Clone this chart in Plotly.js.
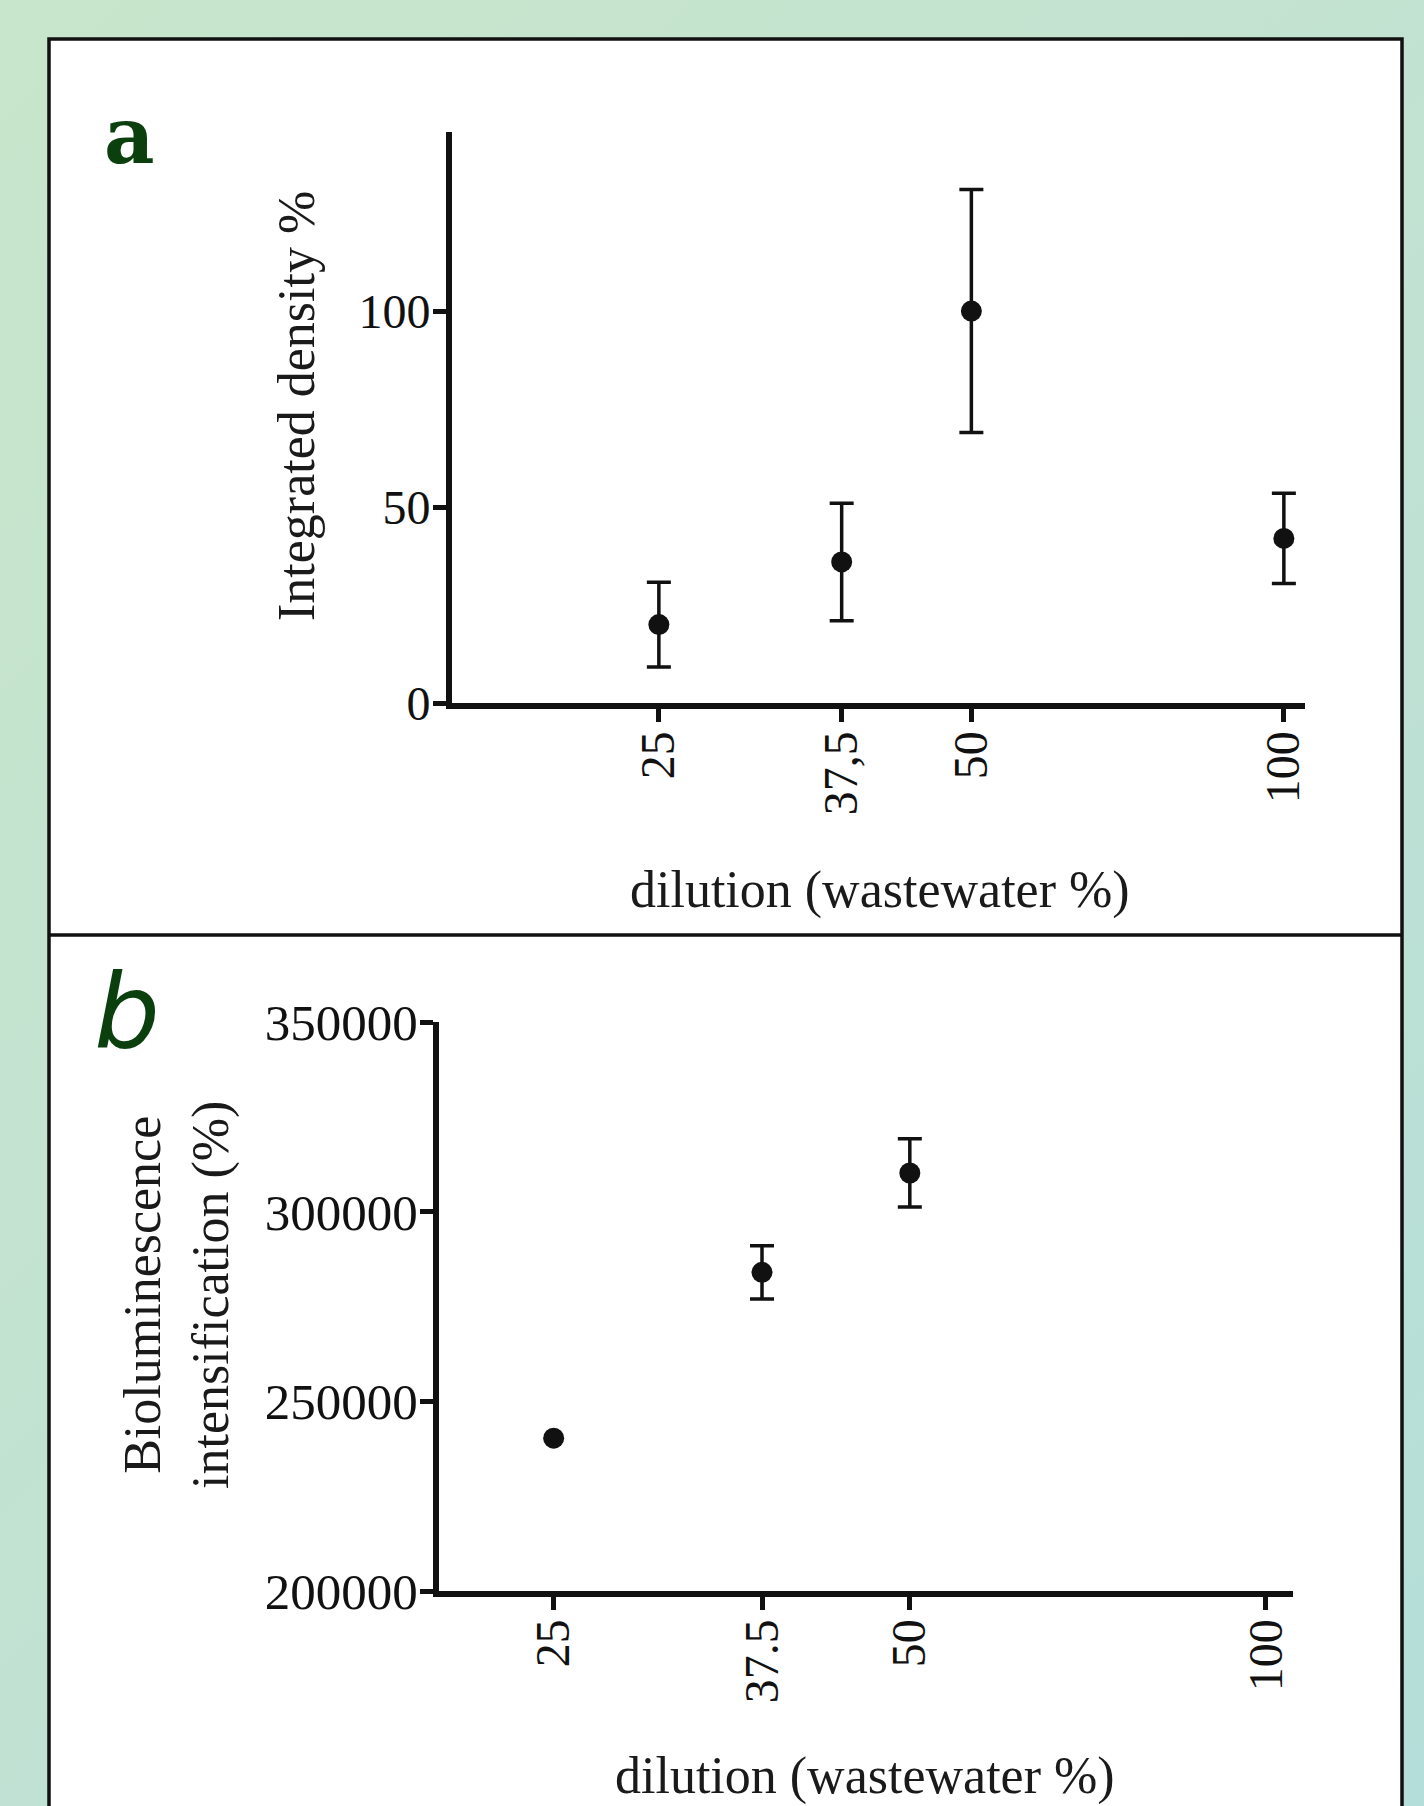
<!DOCTYPE html>
<html>
<head>
<meta charset="utf-8">
<script src="https://cdn.plot.ly/plotly-3.0.1.min.js"></script>
<style>
  html, body { margin: 0; padding: 0; }
  body { width: 1424px; height: 1806px; overflow: hidden;
         background: linear-gradient(135deg, #c8e6cb 0%, #c2e2d2 50%, #b4ded9 100%); }
  #chart { width: 1424px; height: 1806px; }
</style>
</head>
<body>
<div id="chart"></div>
<script>
// Panel a: integrated density
const dilutionA = [25, 37.5, 50, 100];
const densityMean = [20, 36, 100, 42];
const densityErr = [10.8, 15, 31, 11.5];
const tickTextA = ["25", "37,5", "50", "100"];

// Panel b: bioluminescence intensification (no error bar shown at 25 %)
const dilutionB = [25, 37.5, 50];
const biolumMean = [240300, 284000, 310200];
const biolumErr = [null, 7000, 9000];
const tickValsB = [25, 37.5, 50, 100];
const tickTextB = ["25", "37.5", "50", "100"];
const yTicksB = [200000, 250000, 300000, 350000];

const W = 1424, H = 1806;
const px = v => v / W;
const py = v => (H - v) / H;

const serif = "Liberation Serif, Times New Roman, serif";
const ink = "#111111";

const markerStyle = { color: "#111111", size: 21, symbol: "circle" };
const errStyle = { type: "data", symmetric: true, color: "#111111", thickness: 3.5, width: 12 };

// split panel b into points with and without an error bar
const idxErr = biolumErr.map((e, i) => e == null ? -1 : i).filter(i => i >= 0);
const idxNoErr = biolumErr.map((e, i) => e == null ? i : -1).filter(i => i >= 0);

const traces = [
  { x: dilutionA, y: densityMean, type: "scatter", mode: "markers",
    marker: markerStyle, error_y: Object.assign({ array: densityErr }, errStyle),
    xaxis: "x", yaxis: "y", showlegend: false },
  { x: idxErr.map(i => dilutionB[i]), y: idxErr.map(i => biolumMean[i]),
    type: "scatter", mode: "markers", marker: markerStyle,
    error_y: Object.assign({ array: idxErr.map(i => biolumErr[i]) }, errStyle),
    xaxis: "x2", yaxis: "y2", showlegend: false },
  { x: idxNoErr.map(i => dilutionB[i]), y: idxNoErr.map(i => biolumMean[i]),
    type: "scatter", mode: "markers", marker: markerStyle,
    xaxis: "x2", yaxis: "y2", showlegend: false }
];

const axisCommon = {
  showline: true, linecolor: "#111111", linewidth: 6,
  ticks: "outside", ticklen: 13, tickwidth: 5, tickcolor: "#111111",
  showgrid: false, zeroline: false, fixedrange: true, automargin: false
};

const layout = {
  width: W, height: H,
  margin: { l: 0, r: 0, t: 0, b: 0, pad: 0 },
  paper_bgcolor: "rgba(0,0,0,0)",
  plot_bgcolor: "rgba(0,0,0,0)",
  showlegend: false,
  xaxis: Object.assign({}, axisCommon, {
    type: "log", domain: [px(452), px(1305)],
    range: [Math.log10(15.8), Math.log10(104.8)],
    tickmode: "array", tickvals: dilutionA, ticktext: tickTextA, tickangle: -90,
    ticklabelstandoff: -10,
    tickfont: { family: serif, size: 48, color: ink }, anchor: "y"
  }),
  yaxis: Object.assign({}, axisCommon, {
    domain: [py(703), py(132)], range: [0, 145.7],
    tickmode: "array", tickvals: [0, 50, 100], ticktext: ["0", "50", "100"],
    ticklabelstandoff: -7,
    tickfont: { family: serif, size: 48, color: ink }, anchor: "x"
  }),
  xaxis2: Object.assign({}, axisCommon, {
    type: "log", domain: [px(439), px(1293)],
    range: [Math.log10(20), Math.log10(105.4)],
    tickmode: "array", tickvals: tickValsB, ticktext: tickTextB, tickangle: -90,
    ticklabelstandoff: -10,
    tickfont: { family: serif, size: 48, color: ink }, anchor: "y2"
  }),
  yaxis2: Object.assign({}, axisCommon, {
    domain: [py(1591), py(1022)], range: [200000, 350000],
    tickmode: "array", tickvals: yTicksB, ticktext: yTicksB.map(String),
    ticklabelstandoff: -8,
    tickfont: { family: serif, size: 51, color: ink }, anchor: "x2"
  }),
  shapes: [
    { type: "rect", xref: "paper", yref: "paper", layer: "below",
      x0: px(49), x1: px(1402), y0: -0.05, y1: py(39),
      fillcolor: "#ffffff", line: { color: "#111111", width: 3.5 } },
    { type: "line", xref: "paper", yref: "paper", layer: "below",
      x0: px(49), x1: px(1402), y0: py(935), y1: py(935),
      line: { color: "#111111", width: 3.5 } }
  ],
  annotations: [
    { text: "a", xref: "paper", yref: "paper", x: px(129), y: py(136),
      xanchor: "center", yanchor: "middle", showarrow: false,
      font: { family: "DejaVu Serif, serif", size: 78, color: "#0b3f0d", weight: "bold" } },
    { text: "<i>b</i>", xref: "paper", yref: "paper", x: px(127), y: py(1012),
      xanchor: "center", yanchor: "middle", showarrow: false,
      font: { family: "DejaVu Sans, sans-serif", size: 104, color: "#0b3f0d" } },
    { text: "Integrated density %", xref: "paper", yref: "paper", x: px(297), y: py(406),
      xanchor: "center", yanchor: "middle", textangle: -90, showarrow: false,
      font: { family: serif, size: 52, color: "#1a1a1a" } },
    { text: "dilution (wastewater %)", xref: "paper", yref: "paper", x: px(880), y: py(890),
      xanchor: "center", yanchor: "middle", showarrow: false,
      font: { family: serif, size: 52, color: "#1a1a1a" } },
    { text: "Bioluminescence<br>intensification (%)", xref: "paper", yref: "paper",
      x: px(177), y: py(1295), xanchor: "center", yanchor: "middle", textangle: -90,
      showarrow: false, font: { family: serif, size: 52, color: "#1a1a1a" } },
    { text: "dilution (wastewater %)", xref: "paper", yref: "paper", x: px(865), y: py(1776),
      xanchor: "center", yanchor: "middle", showarrow: false,
      font: { family: serif, size: 52, color: "#1a1a1a" } }
  ]
};

Plotly.newPlot("chart", traces, layout, { displayModeBar: false, staticPlot: true });
</script>
</body>
</html>
